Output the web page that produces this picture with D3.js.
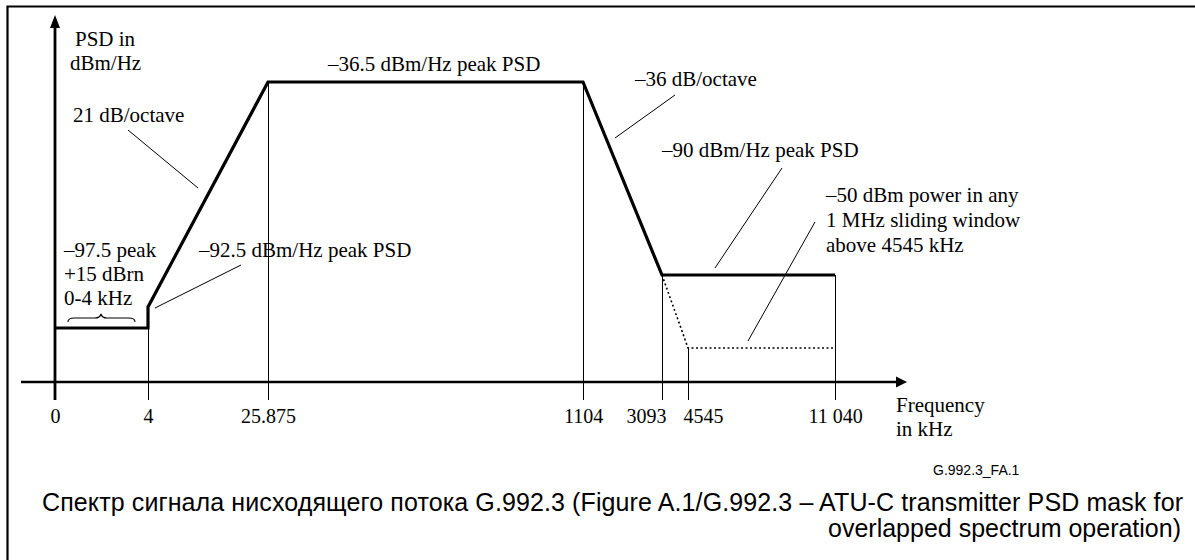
<!DOCTYPE html>
<html>
<head>
<meta charset="utf-8">
<script src="https://cdn.jsdelivr.net/npm/d3@7"></script>
<style>
  html, body { margin: 0; padding: 0; background: #fff; }
  svg { display: block; }
  .serif { font-family: "Liberation Serif", "Times New Roman", serif; font-size: 21px; fill: #000; }
  .tick-label { font-family: "Liberation Serif", "Times New Roman", serif; font-size: 20px; fill: #000; }
  .sans { font-family: "Liberation Sans", Arial, sans-serif; fill: #000; }
</style>
</head>
<body>
<svg id="chart" width="1195" height="560"></svg>
<script>
// Frequency breakpoints of the ATU-C downstream PSD mask (kHz) and their axis labels
const freqBreaks = [0, 4, 25.875, 1104, 3093, 4545, 11040];
const tickLabels = ["0", "4", "25.875", "1104", "3093", "4545", "11 040"];

// Main mask outline: frequency (kHz) and PSD (dBm/Hz)
const maskFreq = [0, 4, 4, 25.875, 1104, 3093, 11040];
const maskPsd  = [-97.5, -97.5, -92.5, -36.5, -36.5, -90, -90];

// Sliding-window limit above 4545 kHz (-50 dBm per MHz = -110 dBm/Hz)
const windowFreq = [3093, 4545, 11040];
const windowPsd  = [-90, -110, -110];

// PSD levels used along the (schematic) vertical scale
const psdLevels = [-125, -110, -97.5, -92.5, -90, -36.5];

// Drop lines from each breakpoint to the frequency axis
const dropFreq = [4, 25.875, 1104, 3093, 4545, 11040];
const dropPsd  = [-97.5, -36.5, -36.5, -90, -110, -90];

const svg = d3.select("#chart");

// Schematic (piecewise) scales: breakpoints are spaced for readability, not to scale
const x = d3.scaleLinear()
  .domain(freqBreaks)
  .range([55, 148, 268, 583, 662, 688, 835]);
const y = d3.scaleLinear()
  .domain(psdLevels)
  .range([382, 348, 328, 307, 275, 82]);

const axisY = y(-125);
const tickBottom = 400;

// Figure frame (only the left and top edges fall inside the page)
svg.append("path")
  .attr("d", "M7.5,560 L7.5,6.5 L1195,6.5")
  .attr("fill", "none").attr("stroke", "#000").attr("stroke-width", 2.2);

// Drop lines
svg.append("g").selectAll("line")
  .data(dropFreq.map((f, i) => ({ f, p: dropPsd[i] })))
  .join("line")
  .attr("x1", d => Math.round(x(d.f)) + 0.5)
  .attr("x2", d => Math.round(x(d.f)) + 0.5)
  .attr("y1", d => y(d.p))
  .attr("y2", tickBottom)
  .attr("stroke", "#000").attr("stroke-width", 1);

// Frequency axis with arrow
svg.append("line")
  .attr("x1", 21).attr("x2", 898)
  .attr("y1", axisY).attr("y2", axisY)
  .attr("stroke", "#000").attr("stroke-width", 2.6);
svg.append("path")
  .attr("d", `M896,${axisY - 5.5} L907,${axisY} L896,${axisY + 5.5} Z`)
  .attr("fill", "#000");

// PSD axis with arrow
svg.append("line")
  .attr("x1", x(0)).attr("x2", x(0))
  .attr("y1", tickBottom).attr("y2", 26)
  .attr("stroke", "#000").attr("stroke-width", 2.8);
svg.append("path")
  .attr("d", `M${x(0) - 5},28 L${x(0)},15 L${x(0) + 5},28 Z`)
  .attr("fill", "#000");

// Tick labels via d3 axis (domain and tick lines hidden; drop lines serve as ticks)
const anchors = ["middle", "middle", "middle", "middle", "end", "start", "middle"];
const dxs = [0, 0, 0, 0, 4, -5, 0];
const xAxis = d3.axisBottom(x)
  .tickValues(freqBreaks)
  .tickFormat((d, i) => tickLabels[i])
  .tickSize(0)
  .tickPadding(0);
const gx = svg.append("g")
  .attr("transform", `translate(0,${tickBottom})`)
  .call(xAxis);
gx.select(".domain").remove();
gx.attr("font-family", null).attr("font-size", null);
gx.selectAll(".tick text")
  .attr("class", "tick-label")
  .attr("fill", null)
  .attr("dy", null)
  .attr("y", 23)
  .attr("text-anchor", (d, i) => anchors[i])
  .attr("dx", (d, i) => dxs[i]);

// Mask outline
const line = d3.line().x(d => x(d[0])).y(d => y(d[1]));
svg.append("path")
  .datum(maskFreq.map((f, i) => [f, maskPsd[i]]))
  .attr("d", line)
  .attr("fill", "none").attr("stroke", "#000")
  .attr("stroke-width", 3.2).attr("stroke-linejoin", "miter");

// Sliding-window limit (dotted)
svg.append("path")
  .datum(windowFreq.map((f, i) => [f, windowPsd[i]]))
  .attr("d", line)
  .attr("fill", "none").attr("stroke", "#000")
  .attr("stroke-width", 1.6).attr("stroke-dasharray", "2,2.5");

// Axis titles
const txt = (s, tx, ty, cls = "serif") =>
  svg.append("text").attr("class", cls).attr("x", tx).attr("y", ty).text(s);

txt("PSD in", 75, 46);
txt("dBm/Hz", 70, 70);
txt("Frequency", 896, 412);
txt("in kHz", 896, 436);

// Annotations with leader lines
const leader = (x1, y1, x2, y2) =>
  svg.append("line").attr("x1", x1).attr("y1", y1).attr("x2", x2).attr("y2", y2)
    .attr("stroke", "#000").attr("stroke-width", 1);

txt("21 dB/octave", 73, 122);
leader(128, 130, 198, 188);

txt("\u201336.5 dBm/Hz peak PSD", 328, 71);

txt("\u201336 dB/octave", 635, 86);
leader(675, 95, 615, 138);

txt("\u201390 dBm/Hz peak PSD", 662, 157);
leader(782, 168, 715, 268);

txt("\u201350 dBm power in any", 826, 202);
txt("1 MHz sliding window", 826, 227);
txt("above 4545 kHz", 826, 252);
leader(815, 222, 748, 341);

txt("\u201397.5 peak", 64, 257);
txt("+15 dBrn", 64, 281);
txt("0-4 kHz", 64, 305);
// Brace spanning the 0-4 kHz band
svg.append("path")
  .attr("d", "M68,322 Q68,318 74,318 L95,318 Q100,318 101,314 Q102,318 107,318 L129,318 Q135,318 135,322")
  .attr("fill", "none").attr("stroke", "#000").attr("stroke-width", 1.1);

txt("\u201392.5 dBm/Hz peak PSD", 199, 257);
leader(241, 265, 155, 308);

// Figure id and caption
svg.append("text").attr("class", "sans").attr("font-size", 14)
  .attr("x", 933).attr("y", 475).text("G.992.3_FA.1");
svg.append("text").attr("class", "sans").attr("font-size", 25)
  .attr("x", 42).attr("y", 511)
  .attr("textLength", 1141).attr("lengthAdjust", "spacing")
  .text("Спектр сигнала нисходящего потока G.992.3 (Figure A.1/G.992.3 \u2013 ATU-C transmitter PSD mask for");
svg.append("text").attr("class", "sans").attr("font-size", 25)
  .attr("x", 1181).attr("y", 537).attr("text-anchor", "end")
  .text("overlapped spectrum operation)");
</script>
</body>
</html>
